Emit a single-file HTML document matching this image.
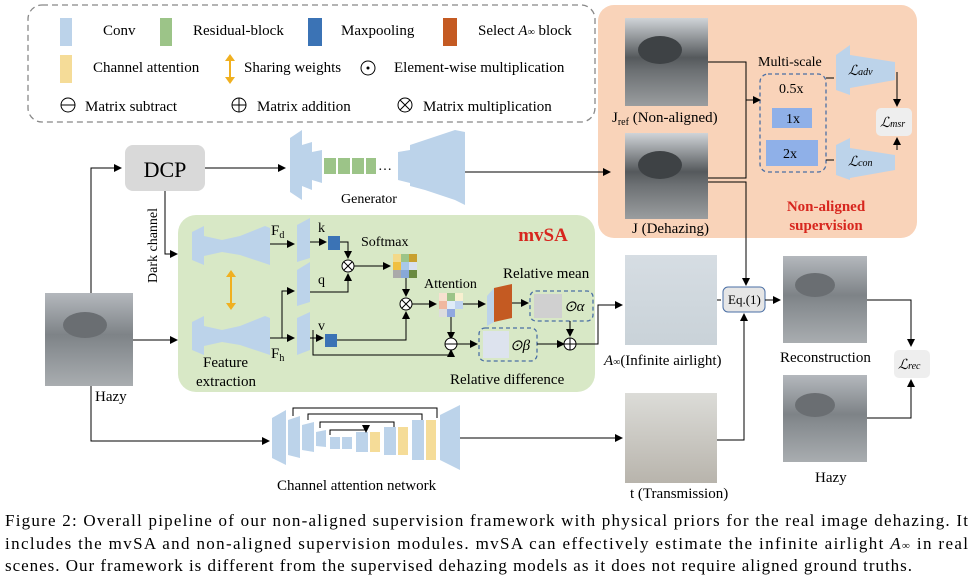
<!DOCTYPE html>
<html><head><meta charset="utf-8"><style>
html,body{margin:0;padding:0;background:#fff;}
svg{display:block;font-family:"Liberation Serif",serif;}
</style></head><body>
<svg width="973" height="578" viewBox="0 0 973 578" xmlns="http://www.w3.org/2000/svg">
<defs>
<marker id="a" markerWidth="8" markerHeight="8" refX="7" refY="4" orient="auto" markerUnits="userSpaceOnUse"><path d="M0,0L8,4L0,8z" fill="#000"/></marker>
<linearGradient id="ph" x1="0" y1="0" x2="0" y2="1"><stop offset="0" stop-color="#b4b8bd"/><stop offset="0.45" stop-color="#7e8387"/><stop offset="0.6" stop-color="#8a8f93"/><stop offset="1" stop-color="#a9adb0"/></linearGradient>
<linearGradient id="ph2" x1="0" y1="0" x2="0" y2="1"><stop offset="0" stop-color="#d0d4d8"/><stop offset="0.45" stop-color="#55595c"/><stop offset="0.6" stop-color="#6c7073"/><stop offset="1" stop-color="#9a9d9f"/></linearGradient>
<linearGradient id="ph3" x1="0" y1="0" x2="0" y2="1"><stop offset="0" stop-color="#d6dde3"/><stop offset="1" stop-color="#c9d2d8"/></linearGradient>
<linearGradient id="ph4" x1="0" y1="0" x2="0" y2="1"><stop offset="0" stop-color="#dcdcd8"/><stop offset="1" stop-color="#b8b4ac"/></linearGradient>
</defs>
<!-- legend -->
<rect x="28" y="5" width="567" height="117" rx="14" fill="none" stroke="#888" stroke-dasharray="6,4" stroke-width="1.3"/>
<g font-size="15">
<rect x="60" y="18" width="12" height="28" fill="#bcd3ea"/><text x="103" y="35">Conv</text>
<rect x="160" y="18" width="12" height="28" fill="#9cc488"/><text x="193" y="35">Residual-block</text>
<rect x="308" y="18" width="14" height="28" fill="#3b73b5"/><text x="341" y="35">Maxpooling</text>
<rect x="443" y="18" width="14" height="28" fill="#c45a22"/><text x="478" y="35">Select <tspan font-style="italic">A</tspan><tspan font-size="10">∞</tspan> block</text>
<rect x="60" y="55" width="12" height="28" fill="#f5dc98"/><text x="93" y="72">Channel attention</text>
<line x1="230" y1="56" x2="230" y2="82" stroke="#f0b020" stroke-width="2"/><path d="M225,61L230,54L235,61zM225,77L230,84L235,77z" fill="#f0b020"/>
<text x="244" y="72">Sharing weights</text>
<circle cx="368" cy="68" r="7" fill="none" stroke="#000"/><circle cx="368" cy="68" r="1.5"/><text x="394" y="72">Element-wise multiplication</text>
<circle cx="68" cy="105" r="7" fill="none" stroke="#000"/><line x1="61" y1="105" x2="75" y2="105" stroke="#000"/><text x="85" y="111">Matrix subtract</text>
<circle cx="239" cy="105" r="7" fill="none" stroke="#000"/><path d="M232,105h14M239,98v14" stroke="#000"/><text x="257" y="111">Matrix addition</text>
<circle cx="405" cy="105" r="7" fill="none" stroke="#000"/><path d="M400,100l10,10M410,100l-10,10" stroke="#000"/><text x="423" y="111">Matrix multiplication</text>
</g>
<!-- orange box -->
<rect x="598" y="5" width="319" height="233" rx="16" fill="#f9d3b9"/>
<rect x="625" y="18" width="83" height="88" fill="url(#ph2)"/>
<ellipse cx="660" cy="50" rx="22" ry="14" fill="#3e4245"/>
<rect x="625" y="133" width="83" height="86" fill="url(#ph2)"/>
<ellipse cx="660" cy="165" rx="22" ry="14" fill="#3e4245"/>
<text x="612" y="122" font-size="15">J<tspan font-size="10" dy="3">ref</tspan><tspan dy="-3"> (Non-aligned)</tspan></text>
<text x="632" y="233" font-size="15">J (Dehazing)</text>
<text x="758" y="66" font-size="14">Multi-scale</text>
<rect x="760" y="74" width="66" height="98" rx="8" fill="none" stroke="#4a6fa5" stroke-dasharray="4,3" stroke-width="1.3"/>
<text x="779" y="93" font-size="14">0.5x</text>
<rect x="772" y="108" width="40" height="20" fill="#8fb0e8"/><text x="786" y="123" font-size="14">1x</text>
<rect x="766" y="140" width="52" height="26" fill="#8fb0e8"/><text x="783" y="158" font-size="14">2x</text>
<path d="M708,62h38v60M708,178h38v-56" fill="none" stroke="#000"/>
<path d="M746,100h14" stroke="#000" marker-end="url(#a)"/>
<polygon points="836,55 850,45 850,95 836,90" fill="#bcd3ea"/><polygon points="850,55 895,62 895,80 850,88" fill="#bcd3ea"/>
<text x="848" y="75" font-size="14" font-style="italic">ℒ<tspan font-size="10">adv</tspan></text>
<polygon points="836,145 850,138 850,180 836,175" fill="#bcd3ea"/><polygon points="850,148 895,155 895,170 850,178" fill="#bcd3ea"/>
<text x="848" y="166" font-size="14" font-style="italic">ℒ<tspan font-size="10">con</tspan></text>
<rect x="876" y="108" width="36" height="28" rx="5" fill="#eee"/><text x="880" y="127" font-size="14" font-style="italic">ℒ<tspan font-size="10">msr</tspan></text>
<path d="M826,78h8M826,160h8" stroke="#000"/>
<path d="M897,72v34" stroke="#000" marker-end="url(#a)"/><path d="M897,150v-12" stroke="#000" marker-end="url(#a)"/>
<text x="826" y="211" font-size="15" font-weight="bold" fill="#d7261e" text-anchor="middle">Non-aligned</text>
<text x="826" y="230" font-size="15" font-weight="bold" fill="#d7261e" text-anchor="middle">supervision</text>
<!-- DCP -->
<rect x="125" y="145" width="80" height="46" rx="8" fill="#d9d9d9"/><text x="165" y="177" font-size="22" text-anchor="middle">DCP</text>
<text transform="translate(157,283) rotate(-90)" font-size="14">Dark channel</text>
<!-- generator -->
<path d="M205,168h80" stroke="#000" marker-end="url(#a)"/>
<polygon points="290,138 302,130 302,200 290,192" fill="#bcd3ea"/><polygon points="302,145 312,142 312,190 302,186" fill="#bcd3ea"/>
<polygon points="312,152 322,150 322,183 312,180" fill="#bcd3ea"/>
<rect x="324" y="158" width="12" height="16" fill="#9cc488"/><rect x="338" y="158" width="12" height="16" fill="#9cc488"/><rect x="352" y="158" width="12" height="16" fill="#9cc488"/><rect x="366" y="158" width="10" height="16" fill="#9cc488"/>
<text x="378" y="170" font-size="14">…</text>
<polygon points="398,152 410,150 410,183 398,180" fill="#bcd3ea"/><polygon points="410,145 425,140 425,190 410,186" fill="#bcd3ea"/>
<polygon points="425,140 455,130 465,132 465,205 455,200 425,190" fill="#bcd3ea"/>
<text x="341" y="203" font-size="14">Generator</text>
<path d="M465,172h145" stroke="#000" marker-end="url(#a)"/>
<!-- hazy left -->
<rect x="45" y="293" width="88" height="93" fill="url(#ph)"/>
<ellipse cx="85" cy="325" rx="22" ry="13" fill="#6a6e72"/>
<text x="95" y="401" font-size="15">Hazy</text>
<path d="M91,293V168h30" fill="none" stroke="#000" marker-end="url(#a)"/>
<path d="M165,191v63h12" fill="none" stroke="#000" marker-end="url(#a)"/>
<path d="M133,340h44" stroke="#000" marker-end="url(#a)"/>
<path d="M91,386v55h178" fill="none" stroke="#000" marker-end="url(#a)"/>
<!-- green mvSA -->
<rect x="178" y="215" width="417" height="177" rx="18" fill="#d8e8c6"/>
<text x="543" y="241" font-size="19" font-weight="bold" fill="#d7261e" text-anchor="middle">mvSA</text>
<g fill="#bcd3ea">
<polygon points="192,232 204,226 204,265 192,260"/><polygon points="204,236 222,240 240,236 265,226 270,228 270,265 240,255 222,252 204,256"/>
<polygon points="192,322 204,316 204,355 192,350"/><polygon points="204,326 222,330 240,326 265,316 270,318 270,355 240,345 222,342 204,346"/>
<polygon points="297,225 310,218 310,258 297,262"/><polygon points="297,270 310,262 310,302 297,306"/><polygon points="297,318 310,312 310,350 297,355"/>
</g>
<line x1="231" y1="273" x2="231" y2="307" stroke="#f0b020" stroke-width="2"/><path d="M226,277L231,270L236,277zM226,303L231,310L236,303z" fill="#f0b020"/>
<text x="203" y="367" font-size="15">Feature</text><text x="196" y="386" font-size="15">extraction</text>
<text x="271" y="235" font-size="15">F<tspan font-size="10" dy="3">d</tspan></text>
<text x="271" y="358" font-size="15">F<tspan font-size="10" dy="3">h</tspan></text>
<path d="M270,244h24" stroke="#000" marker-end="url(#a)"/>
<path d="M270,338h12V291h12M282,338h12" fill="none" stroke="#000" marker-end="url(#a)"/>
<path d="M282,291h12" stroke="#000" marker-end="url(#a)"/>
<text x="318" y="232" font-size="14">k</text><text x="318" y="284" font-size="14">q</text><text x="318" y="330" font-size="14">v</text>
<path d="M310,242h16" stroke="#000" marker-end="url(#a)"/>
<rect x="328" y="236" width="12" height="14" fill="#3b73b5"/>
<rect x="325" y="334" width="12" height="13" fill="#3b73b5"/>
<path d="M310,338h13" stroke="#000" marker-end="url(#a)"/>
<circle cx="348" cy="266" r="6" fill="#fff" stroke="#000"/><path d="M344,262l8,8M352,262l-8,8" stroke="#000"/>
<path d="M340,242h8v16" fill="none" stroke="#000" marker-end="url(#a)"/>
<path d="M310,292h38v-18" fill="none" stroke="#000" marker-end="url(#a)"/>
<text x="361" y="246" font-size="14">Softmax</text>
<g><rect x="393" y="254" width="8" height="8" fill="#f3d98a"/><rect x="401" y="254" width="8" height="8" fill="#9cc488"/><rect x="409" y="254" width="8" height="8" fill="#c8a030"/>
<rect x="393" y="262" width="8" height="8" fill="#f0c040"/><rect x="401" y="262" width="8" height="8" fill="#a8c8e8"/><rect x="409" y="262" width="8" height="8" fill="#d8e0f0"/>
<rect x="393" y="270" width="8" height="8" fill="#aaa"/><rect x="401" y="270" width="8" height="8" fill="#88a8d8"/><rect x="409" y="270" width="8" height="8" fill="#6a8a40"/></g>
<path d="M354,266h36" stroke="#000" marker-end="url(#a)"/>
<circle cx="406" cy="304" r="6" fill="#fff" stroke="#000"/><path d="M402,300l8,8M410,300l-8,8" stroke="#000"/>
<path d="M406,278v18" stroke="#000" marker-end="url(#a)"/>
<path d="M337,340h69v-28" fill="none" stroke="#000" marker-end="url(#a)"/>
<text x="424" y="288" font-size="14">Attention</text>
<g><rect x="439" y="293" width="8" height="8" fill="#f8e0d0"/><rect x="447" y="293" width="8" height="8" fill="#9cc488"/><rect x="455" y="293" width="8" height="8" fill="#f8f0d0"/>
<rect x="439" y="301" width="8" height="8" fill="#f0b8a0"/><rect x="447" y="301" width="8" height="8" fill="#e0ecf8"/><rect x="455" y="301" width="8" height="8" fill="#c0d4f0"/>
<rect x="439" y="309" width="8" height="8" fill="#ddd"/><rect x="447" y="309" width="8" height="8" fill="#90a8e0"/></g>
<path d="M412,304h24" stroke="#000" marker-end="url(#a)"/>
<path d="M463,304h22" stroke="#000" marker-end="url(#a)"/>
<polygon points="487,296 494,288 494,322 487,326" fill="#bcd3ea"/><polygon points="494,288 512,284 512,318 494,322" fill="#c45a22"/>
<text x="503" y="278" font-size="15">Relative mean</text>
<path d="M512,303h16" stroke="#000" marker-end="url(#a)"/>
<rect x="530" y="291" width="63" height="30" rx="6" fill="none" stroke="#4a6fa5" stroke-dasharray="4,3" stroke-width="1.3"/>
<rect x="534" y="294" width="28" height="24" fill="#d0d0d0"/>
<text x="564" y="311" font-size="15" font-style="italic">⊙α</text>
<path d="M451,317v22" stroke="#000" marker-end="url(#a)"/>
<circle cx="451" cy="344" r="6" fill="#fff" stroke="#000"/><line x1="445" y1="344" x2="457" y2="344" stroke="#000"/>
<path d="M313,330v25h138v-5" fill="none" stroke="#000" marker-end="url(#a)"/>
<path d="M457,344h20" stroke="#000" marker-end="url(#a)"/>
<rect x="479" y="328" width="58" height="33" rx="6" fill="none" stroke="#4a6fa5" stroke-dasharray="4,3" stroke-width="1.3"/>
<rect x="483" y="331" width="26" height="27" fill="#dde3ee"/>
<text x="510" y="350" font-size="15" font-style="italic">⊙β</text>
<path d="M537,344h27" stroke="#000" marker-end="url(#a)"/>
<circle cx="570" cy="344" r="6" fill="#fff" stroke="#000"/><path d="M564,344h12M570,338v12" stroke="#000"/>
<path d="M570,321v15" stroke="#000" marker-end="url(#a)"/>
<text x="450" y="384" font-size="15">Relative difference</text>
<path d="M576,344h22V305h24" fill="none" stroke="#000" marker-end="url(#a)"/>
<!-- A inf image -->
<rect x="625" y="255" width="92" height="90" fill="url(#ph3)"/>
<text x="604" y="365" font-size="15"><tspan font-style="italic">A</tspan><tspan font-size="10">∞</tspan>(Infinite airlight)</text>
<!-- Eq box -->
<rect x="723" y="287" width="42" height="25" rx="5" fill="#e6e6e6" stroke="#4a6fa5"/><text x="728" y="304" font-size="13">Eq.(1)</text>
<path d="M717,300h4" stroke="#000"/>
<path d="M708,182h38v103" fill="none" stroke="#000" marker-end="url(#a)"/>
<path d="M717,440h27V314" fill="none" stroke="#000" marker-end="url(#a)"/>
<path d="M765,300h15" stroke="#000" marker-end="url(#a)"/>
<rect x="783" y="256" width="84" height="87" fill="url(#ph)"/>
<ellipse cx="815" cy="285" rx="20" ry="12" fill="#6a6e72"/>
<text x="780" y="362" font-size="15">Reconstruction</text>
<rect x="783" y="375" width="84" height="87" fill="url(#ph)"/>
<ellipse cx="815" cy="405" rx="20" ry="12" fill="#6a6e72"/>
<text x="815" y="482" font-size="15">Hazy</text>
<rect x="894" y="350" width="36" height="28" rx="5" fill="#eee"/><text x="898" y="369" font-size="14" font-style="italic">ℒ<tspan font-size="10">rec</tspan></text>
<path d="M867,300h44v46" fill="none" stroke="#000" marker-end="url(#a)"/>
<path d="M867,418h44v-38" fill="none" stroke="#000" marker-end="url(#a)"/>
<!-- channel attention network -->
<g fill="#bcd3ea"><polygon points="272,418 286,410 286,465 272,458"/><polygon points="288,420 300,416 300,458 288,455"/><polygon points="302,425 314,422 314,452 302,450"/><polygon points="316,432 326,430 326,447 316,446"/></g>
<g><rect x="330" y="437" width="10" height="12" fill="#bcd3ea"/><rect x="342" y="437" width="10" height="12" fill="#bcd3ea"/><rect x="356" y="432" width="12" height="20" fill="#bcd3ea"/><rect x="370" y="432" width="10" height="20" fill="#f5dc98"/><rect x="384" y="427" width="12" height="28" fill="#bcd3ea"/><rect x="398" y="427" width="10" height="28" fill="#f5dc98"/><rect x="412" y="420" width="12" height="40" fill="#bcd3ea"/><rect x="426" y="420" width="10" height="40" fill="#f5dc98"/></g>
<polygon points="440,415 460,405 460,470 440,460" fill="#bcd3ea"/>
<path d="M293,416v-8h144v10M308,420v-6h114v6M320,428v-6h74v5M330,435v-5h36v2" fill="none" stroke="#000" marker-end="url(#a)"/>
<text x="277" y="490" font-size="15">Channel attention network</text>
<path d="M460,438h162" stroke="#000" marker-end="url(#a)"/>
<rect x="625" y="393" width="92" height="90" fill="url(#ph4)"/>
<text x="630" y="498" font-size="15">t (Transmission)</text>
<!-- caption -->
<g font-size="17">
<text x="5" y="526" textLength="963" lengthAdjust="spacing">Figure 2: Overall pipeline of our non-aligned supervision framework with physical priors for the real image dehazing. It</text>
<text x="5" y="549" textLength="963" lengthAdjust="spacing">includes the mvSA and non-aligned supervision modules. mvSA can effectively estimate the infinite airlight <tspan font-style="italic">A</tspan><tspan font-size="11">∞</tspan> in real</text>
<text x="5" y="571" textLength="907" lengthAdjust="spacing">scenes. Our framework is different from the supervised dehazing models as it does not require aligned ground truths.</text>
</g>
</svg>
</body></html>
